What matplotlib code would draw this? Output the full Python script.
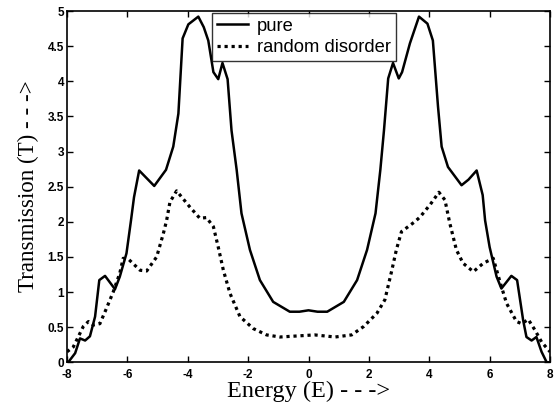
import matplotlib
matplotlib.use("Agg")
import matplotlib.pyplot as plt

# Pure system transmission (solid)
e_pure = [-8.0, -7.96, -7.73, -7.57, -7.40, -7.24, -7.07, -6.93, -6.74, -6.41, -6.25,
          -6.03, -5.88, -5.78, -5.61, -5.11, -4.72, -4.48, -4.31, -4.17, -3.98, -3.65,
          -3.47, -3.32, -3.15, -2.99, -2.85, -2.68, -2.55, -2.38, -2.22, -1.94, -1.61,
          -1.17, -0.62, -0.30, 0.0, 0.30, 0.62, 1.17, 1.61, 1.94, 2.22, 2.38, 2.50,
          2.64, 2.80, 2.99, 3.10, 3.36, 3.66, 3.94, 4.12, 4.29, 4.41, 4.62, 5.07, 5.30,
          5.57, 5.77, 5.85, 6.00, 6.23, 6.39, 6.72, 6.91, 7.11, 7.22, 7.39, 7.55, 7.72,
          7.89, 8.0]
t_pure = [0.0, 0.0, 0.13, 0.34, 0.31, 0.37, 0.65, 1.17, 1.23, 1.04, 1.22,
          1.55, 2.02, 2.35, 2.73, 2.51, 2.74, 3.07, 3.54, 4.61, 4.81, 4.92,
          4.77, 4.58, 4.13, 4.03, 4.26, 4.03, 3.30, 2.74, 2.12, 1.60, 1.17,
          0.86, 0.72, 0.72, 0.74, 0.72, 0.72, 0.86, 1.17, 1.60, 2.12, 2.74, 3.30,
          4.04, 4.26, 4.04, 4.13, 4.54, 4.92, 4.82, 4.58, 3.64, 3.07, 2.78, 2.52, 2.60,
          2.73, 2.38, 2.02, 1.64, 1.22, 1.05, 1.23, 1.17, 0.60, 0.36, 0.31, 0.36, 0.15,
          0.0, 0.0]

# Random disorder transmission (dotted)
e_dis = [-8.0, -7.79, -7.63, -7.46, -7.29, -7.13, -6.91, -6.69, -6.47, -6.25, -6.14,
         -5.97, -5.58, -5.36, -5.03, -4.81, -4.70, -4.59, -4.37, -3.93, -3.60, -3.38,
         -3.15, -2.99, -2.82, -2.60, -2.27, -1.83, -1.39, -0.95, -0.18, 0.20, 0.88,
         1.43, 1.83, 2.27, 2.53, 2.75, 2.91, 3.08, 3.52, 3.70, 4.04, 4.32, 4.52, 4.68,
         4.90, 5.12, 5.46, 5.79, 6.12, 6.34, 6.56, 6.89, 7.06, 7.28, 7.50, 7.72, 8.0]
t_dis = [0.15, 0.22, 0.36, 0.51, 0.58, 0.53, 0.55, 0.77, 1.00, 1.27, 1.48,
         1.47, 1.31, 1.30, 1.50, 1.83, 2.02, 2.28, 2.44, 2.21, 2.05, 2.06,
         1.93, 1.64, 1.31, 0.98, 0.65, 0.48, 0.39, 0.36, 0.38, 0.39, 0.36,
         0.39, 0.51, 0.70, 0.89, 1.29, 1.60, 1.86, 2.00, 2.07, 2.25, 2.42, 2.31, 1.98,
         1.60, 1.41, 1.29, 1.41, 1.48, 1.15, 0.84, 0.58, 0.55, 0.61, 0.46, 0.29, 0.15]

x_ticks = [-8, -6, -4, -2, 0, 2, 4, 6, 8]
y_ticks = [0, 0.5, 1, 1.5, 2, 2.5, 3, 3.5, 4, 4.5, 5]
y_tick_labels = ["0", "0.5", "1", "1.5", "2", "2.5", "3", "3.5", "4", "4.5", "5"]

fig = plt.figure(figsize=(5.55, 4.07), dpi=100)
ax = fig.add_axes([67/555, 1 - 362.3/407, (550 - 67)/555, (362.3 - 11)/407])

ax.plot(e_pure, t_pure, color="black", lw=1.8, linestyle="-", label="pure")
ax.plot(e_dis, t_dis, color="black", lw=2.3, linestyle=(0, (1, 1.2)), label="random disorder")

ax.set_xlim(-8, 8)
ax.set_ylim(0, 5)
ax.set_xticks(x_ticks)
ax.set_xticklabels([str(v) for v in x_ticks])
ax.set_yticks(y_ticks)
ax.set_yticklabels(y_tick_labels)
ax.tick_params(direction="in", top=True, right=True, length=4, width=1,
               labelsize=8.5, pad=2)
ax.tick_params(axis="x", pad=4.5)
for lab in ax.get_xticklabels() + ax.get_yticklabels():
    lab.set_fontfamily("Liberation Sans")
    lab.set_fontweight("bold")
for s in ax.spines.values():
    s.set_linewidth(1.2)

ax.set_xlabel("Energy (E) - - ->", fontfamily="Liberation Serif", fontsize=17.5, labelpad=0)
ax.set_ylabel("Transmission (T) - - ->", fontfamily="Liberation Serif", fontsize=16.6, labelpad=6)

leg = ax.legend(loc="upper left", bbox_to_anchor=(212/555, 1 - 13/407),
                bbox_transform=fig.transFigure, frameon=True, fancybox=False,
                prop={"family": "Liberation Sans", "size": 13.2},
                handlelength=1.7, borderpad=0.25, labelspacing=0.25,
                handletextpad=0.5, borderaxespad=0)
leg.get_frame().set_edgecolor("black")
leg.get_frame().set_linewidth(1.0)

fig.savefig("out.png", dpi=100)
